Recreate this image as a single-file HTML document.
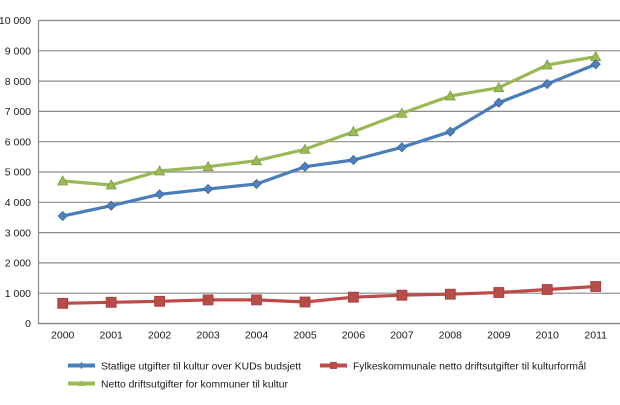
<!DOCTYPE html>
<html><head><meta charset="utf-8"><style>
html,body{margin:0;padding:0;background:#fff;}
svg{display:block;font-family:"Liberation Sans",Arial,sans-serif;}
</style></head><body>
<svg width="620" height="405" viewBox="0 0 620 405" xmlns="http://www.w3.org/2000/svg">
<g stroke="#8a8a8a" stroke-width="1.2">
<line x1="38.5" y1="20.5" x2="620" y2="20.5"/>
<line x1="38.5" y1="50.8" x2="620" y2="50.8"/>
<line x1="38.5" y1="81.1" x2="620" y2="81.1"/>
<line x1="38.5" y1="111.4" x2="620" y2="111.4"/>
<line x1="38.5" y1="141.7" x2="620" y2="141.7"/>
<line x1="38.5" y1="172.0" x2="620" y2="172.0"/>
<line x1="38.5" y1="202.3" x2="620" y2="202.3"/>
<line x1="38.5" y1="232.6" x2="620" y2="232.6"/>
<line x1="38.5" y1="262.9" x2="620" y2="262.9"/>
<line x1="38.5" y1="293.2" x2="620" y2="293.2"/>
<line x1="38.5" y1="20" x2="38.5" y2="324"/>
</g>
<line x1="38" y1="323.5" x2="620" y2="323.5" stroke="#8a8a8a" stroke-width="1.5"/>
<g font-size="10.5" fill="#1a1a1a" text-anchor="end">
<text x="31" y="24">10 000</text>
<text x="31" y="54.5">9 000</text>
<text x="31" y="84.8">8 000</text>
<text x="31" y="115">7 000</text>
<text x="31" y="145.4">6 000</text>
<text x="31" y="175.7">5 000</text>
<text x="31" y="206">4 000</text>
<text x="31" y="236.3">3 000</text>
<text x="31" y="266.6">2 000</text>
<text x="31" y="296.9">1 000</text>
<text x="31" y="327.2">0</text>
</g>
<g font-size="10.5" fill="#1a1a1a" text-anchor="middle">
<text x="62.7" y="338.5">2000</text>
<text x="111.2" y="338.5">2001</text>
<text x="159.6" y="338.5">2002</text>
<text x="208.1" y="338.5">2003</text>
<text x="256.5" y="338.5">2004</text>
<text x="305.0" y="338.5">2005</text>
<text x="353.4" y="338.5">2006</text>
<text x="401.9" y="338.5">2007</text>
<text x="450.3" y="338.5">2008</text>
<text x="498.8" y="338.5">2009</text>
<text x="547.2" y="338.5">2010</text>
<text x="595.7" y="338.5">2011</text>
</g>
<!-- Green -->
<polyline fill="none" stroke="#98b954" stroke-width="3.2" stroke-linejoin="round" points="62.7,181 111.2,185 159.6,171 208.1,166.7 256.5,160.7 305,149.3 353.4,131.7 401.9,113.3 450.3,96 498.8,87.7 547.2,65 595.7,56.7"/>
<g fill="#9bbb59" stroke="#7f9c45" stroke-width="0.8">
<polygon points="62.7,176 57.7,185 67.7,185"/>
<polygon points="111.2,180 106.2,189 116.2,189"/>
<polygon points="159.6,166 154.6,175 164.6,175"/>
<polygon points="208.1,161.7 203.1,170.7 213.1,170.7"/>
<polygon points="256.5,155.7 251.5,164.7 261.5,164.7"/>
<polygon points="305,144.3 300,153.3 310,153.3"/>
<polygon points="353.4,126.7 348.4,135.7 358.4,135.7"/>
<polygon points="401.9,108.3 396.9,117.3 406.9,117.3"/>
<polygon points="450.3,91 445.3,100 455.3,100"/>
<polygon points="498.8,82.7 493.8,91.7 503.8,91.7"/>
<polygon points="547.2,60 542.2,69 552.2,69"/>
<polygon points="595.7,51.7 590.7,60.7 600.7,60.7"/>
</g>
<!-- Blue -->
<polyline fill="none" stroke="#4a7ebb" stroke-width="3.2" stroke-linejoin="round" points="62.7,216 111.2,205.7 159.6,194.3 208.1,189 256.5,184 305,166.7 353.4,160 401.9,147.3 450.3,131.7 498.8,102.7 547.2,84 595.7,64.3"/>
<g fill="#4f81bd" stroke="#3b679c" stroke-width="0.8">
<polygon points="62.7,211.5 67.2,216 62.7,220.5 58.2,216"/>
<polygon points="111.2,201.2 115.7,205.7 111.2,210.2 106.7,205.7"/>
<polygon points="159.6,189.8 164.1,194.3 159.6,198.8 155.1,194.3"/>
<polygon points="208.1,184.5 212.6,189 208.1,193.5 203.6,189"/>
<polygon points="256.5,179.5 261,184 256.5,188.5 252,184"/>
<polygon points="305,162.2 309.5,166.7 305,171.2 300.5,166.7"/>
<polygon points="353.4,155.5 357.9,160 353.4,164.5 348.9,160"/>
<polygon points="401.9,142.8 406.4,147.3 401.9,151.8 397.4,147.3"/>
<polygon points="450.3,127.2 454.8,131.7 450.3,136.2 445.8,131.7"/>
<polygon points="498.8,98.2 503.3,102.7 498.8,107.2 494.3,102.7"/>
<polygon points="547.2,79.5 551.7,84 547.2,88.5 542.7,84"/>
<polygon points="595.7,59.8 600.2,64.3 595.7,68.8 591.2,64.3"/>
</g>
<!-- Red -->
<polyline fill="none" stroke="#be4b48" stroke-width="3.2" stroke-linejoin="round" points="62.7,303.3 111.2,302.3 159.6,301.3 208.1,299.9 256.5,299.9 305,302 353.4,297.2 401.9,295.2 450.3,294.2 498.8,292.5 547.2,289.5 595.7,286.5"/>
<g fill="#b84c49" stroke="#a03f3c" stroke-width="0.8">
<rect x="57.7" y="298.3" width="10" height="10"/>
<rect x="106.2" y="297.3" width="10" height="10"/>
<rect x="154.6" y="296.3" width="10" height="10"/>
<rect x="203.1" y="294.9" width="10" height="10"/>
<rect x="251.5" y="294.9" width="10" height="10"/>
<rect x="300" y="297" width="10" height="10"/>
<rect x="348.4" y="292.2" width="10" height="10"/>
<rect x="396.9" y="290.2" width="10" height="10"/>
<rect x="445.3" y="289.2" width="10" height="10"/>
<rect x="493.8" y="287.5" width="10" height="10"/>
<rect x="542.2" y="284.5" width="10" height="10"/>
<rect x="590.7" y="281.5" width="10" height="10"/>
</g>
<!-- Legend -->
<line x1="68" y1="365.5" x2="95" y2="365.5" stroke="#4a7ebb" stroke-width="4"/>
<polygon points="81.5,362 85,365.5 81.5,369 78,365.5" fill="#4f81bd"/>
<text x="101" y="369.5" font-size="10.5" fill="#1a1a1a" textLength="200" lengthAdjust="spacingAndGlyphs">Statlige utgifter til kultur over KUDs budsjett</text>
<line x1="320" y1="365.5" x2="347" y2="365.5" stroke="#be4b48" stroke-width="4"/>
<rect x="330" y="362" width="7" height="7" fill="#b84c49"/>
<text x="353" y="369.5" font-size="10.5" fill="#1a1a1a" textLength="233" lengthAdjust="spacingAndGlyphs">Fylkeskommunale netto driftsutgifter til kulturformål</text>
<line x1="68" y1="383.5" x2="95" y2="383.5" stroke="#98b954" stroke-width="4"/>
<polygon points="81.5,380 78,386 85,386" fill="#9bbb59"/>
<text x="101" y="387.5" font-size="10.5" fill="#1a1a1a" textLength="187" lengthAdjust="spacingAndGlyphs">Netto driftsutgifter for kommuner til kultur</text>
</svg>
</body></html>
